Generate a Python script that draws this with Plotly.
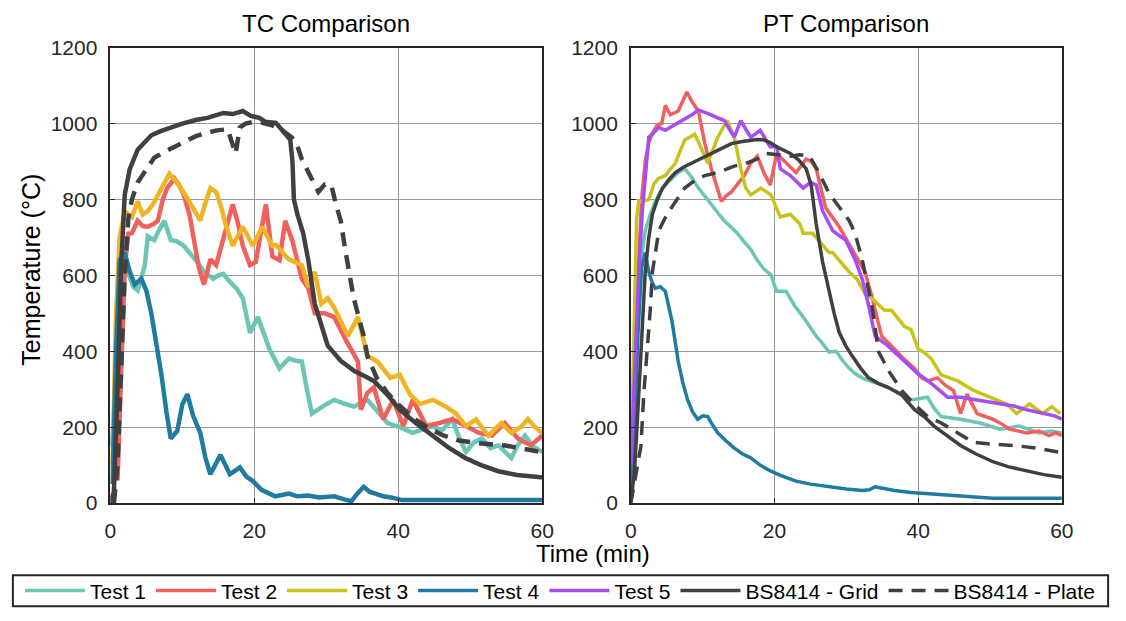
import plotly.graph_objects as go

# ---------------- TC Comparison (left) ----------------
tc_test1_time = [0.2, 0.6, 1.0, 1.4, 2.0, 2.6, 3.2, 3.8, 4.4, 4.8, 5.2, 6.1, 6.8, 7.5, 8.4, 9.2, 10.2, 11.0, 11.6, 12.3, 13.0, 14.3, 15.0, 15.7, 16.5, 17.5, 18.4, 19.4, 20.5, 21.2, 22.1, 23.5, 24.8, 25.8, 26.6, 27.3, 28.0, 29.5, 31.1, 32.5, 33.8, 35.7, 37.0, 38.5, 40.2, 42.0, 43.5, 44.8, 46.0, 47.5, 48.5, 49.4, 50.5, 51.6, 52.8, 53.9, 55.7, 56.5, 57.6, 58.7, 60.0]
tc_test1_temp = [150, 250, 420, 560, 620, 600, 570, 560, 600, 627, 703, 693, 720, 744, 693, 690, 678, 660, 642, 630, 609, 591, 600, 604, 585, 566, 540, 449, 490, 450, 406, 355, 381, 375, 373, 300, 236, 255, 272, 262, 254, 272, 245, 211, 200, 185, 195, 203, 190, 221, 170, 135, 160, 170, 145, 152, 119, 150, 178, 150, 135]

tc_test2_time = [1.0, 1.5, 2.0, 2.5, 3.0, 3.8, 4.5, 5.2, 6.0, 6.6, 7.3, 7.9, 8.9, 9.5, 10.2, 11.0, 11.6, 12.3, 13.0, 13.9, 14.7, 15.8, 17.0, 17.7, 18.4, 19.4, 20.2, 21.6, 22.5, 23.5, 24.3, 25.3, 26.6, 27.5, 28.4, 29.8, 31.1, 32.7, 34.4, 34.8, 35.7, 36.6, 37.9, 39.3, 40.7, 42.0, 43.9, 45.7, 47.5, 49.4, 51.2, 53.0, 54.8, 56.6, 58.4, 60.0]
tc_test2_temp = [60, 350, 620, 710, 711, 744, 730, 728, 735, 744, 800, 830, 855, 840, 812, 760, 693, 620, 576, 642, 627, 700, 787, 740, 678, 627, 635, 787, 650, 640, 744, 690, 591, 566, 500, 500, 490, 430, 373, 246, 290, 305, 221, 272, 203, 272, 203, 211, 221, 203, 185, 178, 211, 170, 152, 178]

tc_test3_time = [0.3, 0.8, 1.3, 2.0, 3.0, 3.8, 4.5, 5.2, 6.0, 6.6, 7.4, 8.2, 9.0, 9.8, 11.2, 12.5, 13.2, 13.9, 14.7, 15.4, 16.1, 17.0, 18.4, 19.8, 21.1, 22.5, 23.0, 24.8, 26.6, 27.5, 28.4, 29.3, 30.2, 31.1, 33.0, 34.4, 35.7, 37.1, 38.9, 40.2, 41.6, 43.0, 44.8, 46.6, 48.0, 49.4, 50.8, 52.5, 54.3, 55.7, 57.0, 58.0, 59.0, 60.0]
tc_test3_temp = [100, 500, 700, 769, 754, 795, 760, 769, 790, 812, 840, 868, 850, 830, 787, 744, 790, 830, 820, 780, 728, 678, 728, 678, 728, 678, 680, 642, 627, 570, 609, 525, 540, 515, 440, 490, 388, 373, 330, 338, 287, 261, 272, 254, 236, 203, 220, 178, 211, 185, 200, 221, 200, 185]

tc_test4_time = [0.3, 0.8, 1.3, 2.0, 2.7, 3.4, 4.3, 5.0, 5.7, 6.4, 7.1, 7.8, 8.4, 9.3, 10.0, 10.7, 11.5, 12.5, 13.2, 13.9, 14.6, 15.3, 16.0, 16.6, 17.3, 18.0, 18.9, 19.8, 21.0, 22.9, 24.0, 24.8, 26.0, 27.5, 29.0, 31.1, 32.5, 33.5, 34.3, 35.2, 36.0, 37.9, 39.0, 40.5, 45.0, 50.0, 55.0, 60.0]
tc_test4_temp = [50, 400, 640, 660, 610, 576, 591, 560, 500, 420, 338, 240, 170, 190, 260, 287, 230, 185, 120, 76, 100, 127, 100, 76, 85, 94, 70, 58, 35, 18, 22, 25, 18, 20, 15, 18, 10, 5, 25, 43, 30, 18, 15, 8, 8, 8, 8, 8]

tc_grid_time = [0.0, 0.5, 1.0, 1.5, 2.0, 2.7, 3.8, 4.7, 5.7, 7.0, 8.4, 10.0, 12.0, 13.5, 15.7, 17.0, 18.4, 19.5, 20.7, 21.5, 23.0, 24.3, 25.0, 25.3, 25.5, 26.0, 26.8, 27.5, 28.4, 29.3, 30.2, 32.0, 33.9, 35.3, 36.6, 38.5, 40.2, 42.5, 44.8, 47.0, 49.3, 51.5, 53.9, 56.5, 59.8, 60.0]
tc_grid_temp = [0, 30, 300, 620, 812, 880, 931, 950, 969, 980, 990, 1000, 1010, 1015, 1028, 1025, 1033, 1020, 1015, 1005, 1002, 972, 957, 900, 800, 760, 710, 640, 525, 470, 415, 375, 348, 335, 322, 285, 246, 210, 178, 146, 119, 100, 84, 74, 68, 68]

tc_plate_time = [0.5, 1.0, 1.5, 2.0, 2.5, 3.0, 3.8, 5.0, 6.1, 7.5, 8.9, 10.3, 11.8, 13.3, 14.8, 16.3, 17.0, 17.4, 18.0, 18.8, 20.0, 21.1, 22.5, 23.9, 25.2, 26.0, 26.6, 27.5, 28.2, 28.9, 29.8, 30.7, 31.3, 32.0, 32.7, 33.8, 35.2, 35.7, 37.0, 38.5, 40.0, 42.0, 44.0, 46.0, 48.4, 51.0, 54.8, 57.0, 59.8]
tc_plate_temp = [0, 100, 350, 600, 750, 800, 845, 880, 910, 925, 939, 950, 966, 975, 982, 985, 947, 921, 990, 1000, 1005, 1002, 995, 982, 964, 940, 906, 871, 845, 820, 840, 838, 790, 744, 660, 541, 440, 388, 330, 290, 260, 225, 200, 180, 165, 158, 152, 145, 135]

# ---------------- PT Comparison (right) ----------------
pt_test1_time = [0.0, 0.5, 1.0, 1.5, 2.0, 2.7, 3.4, 4.1, 4.8, 5.7, 6.6, 7.5, 8.4, 9.4, 10.3, 11.2, 12.1, 13.0, 13.9, 14.8, 15.7, 16.7, 17.6, 18.5, 19.5, 20.3, 21.6, 22.8, 24.0, 24.9, 25.8, 26.7, 27.6, 28.6, 29.5, 30.4, 31.3, 32.2, 33.5, 34.9, 36.7, 38.0, 39.0, 40.2, 41.3, 42.2, 43.2, 45.9, 48.6, 51.4, 54.1, 56.8, 58.5, 60.0]
pt_test1_temp = [50, 300, 550, 650, 718, 760, 795, 820, 838, 855, 871, 881, 860, 830, 810, 787, 765, 744, 728, 711, 690, 668, 640, 617, 601, 558, 558, 520, 490, 465, 440, 420, 398, 400, 375, 355, 340, 330, 320, 312, 297, 285, 272, 275, 279, 250, 228, 221, 211, 195, 203, 185, 190, 185]

pt_test2_time = [0.0, 0.5, 1.0, 1.5, 2.0, 2.5, 3.0, 3.7, 4.3, 4.8, 5.5, 6.6, 7.2, 7.8, 8.5, 9.4, 10.3, 11.2, 12.6, 13.3, 14.0, 14.9, 15.8, 16.7, 17.6, 18.5, 19.4, 20.3, 21.6, 23.0, 24.4, 25.1, 25.8, 27.1, 29.0, 30.8, 32.6, 33.6, 34.9, 36.7, 38.0, 39.5, 40.5, 41.3, 42.7, 43.8, 44.9, 45.9, 46.8, 48.2, 50.4, 51.5, 52.7, 55.1, 56.8, 58.2, 59.2, 60.0]
pt_test2_temp = [30, 300, 600, 800, 900, 950, 975, 997, 1000, 1048, 1023, 1033, 1060, 1083, 1058, 1033, 947, 881, 795, 810, 820, 840, 863, 896, 914, 871, 838, 921, 896, 871, 906, 900, 881, 779, 728, 668, 609, 541, 440, 406, 380, 355, 330, 322, 330, 310, 297, 236, 287, 236, 221, 210, 195, 185, 190, 178, 185, 178]

pt_test3_time = [0.0, 0.4, 0.8, 1.1, 1.6, 2.5, 3.2, 3.8, 4.8, 5.5, 6.2, 7.5, 8.9, 9.9, 10.7, 12.1, 13.4, 14.4, 15.3, 16.0, 16.7, 18.1, 19.5, 20.8, 22.2, 23.5, 24.0, 25.3, 26.2, 27.6, 28.1, 29.5, 30.4, 31.5, 32.6, 33.5, 35.3, 36.3, 37.3, 38.1, 39.0, 40.0, 41.0, 41.8, 43.2, 44.3, 45.5, 47.7, 50.0, 52.3, 53.7, 55.5, 57.3, 58.6, 59.8]
pt_test3_temp = [80, 400, 750, 795, 795, 800, 840, 855, 863, 880, 896, 957, 972, 931, 896, 964, 1008, 964, 881, 830, 812, 830, 812, 754, 761, 736, 711, 711, 690, 660, 660, 627, 609, 590, 551, 540, 508, 508, 482, 465, 457, 406, 395, 381, 338, 330, 322, 297, 279, 261, 236, 261, 236, 254, 236]

pt_test4_time = [0.0, 0.5, 1.0, 1.5, 2.0, 2.5, 3.0, 3.4, 4.1, 4.8, 5.7, 6.6, 7.2, 7.9, 8.6, 9.3, 10.0, 10.7, 11.4, 12.1, 13.2, 14.4, 15.5, 16.7, 18.0, 19.5, 21.0, 23.0, 25.0, 27.6, 30.0, 32.2, 33.2, 34.0, 35.3, 36.7, 39.0, 41.3, 43.5, 45.9, 48.0, 50.4, 55.0, 60.0]
pt_test4_temp = [30, 200, 450, 620, 660, 609, 580, 566, 570, 558, 482, 373, 320, 272, 240, 221, 230, 228, 205, 185, 165, 145, 130, 119, 100, 84, 72, 58, 50, 43, 37, 33, 35, 43, 38, 33, 28, 25, 21, 18, 16, 13, 13, 13]

pt_test5_time = [0.0, 0.5, 1.1, 1.6, 2.0, 2.5, 3.0, 3.9, 4.8, 6.2, 7.3, 8.5, 9.4, 10.3, 11.2, 12.1, 13.0, 14.4, 15.3, 16.0, 16.7, 18.0, 19.4, 20.3, 20.8, 22.2, 23.5, 24.0, 25.0, 25.8, 26.7, 28.1, 29.0, 29.9, 31.2, 32.2, 33.1, 34.0, 35.8, 37.2, 38.6, 40.0, 41.4, 42.7, 44.1, 45.9, 47.2, 48.6, 50.2, 51.8, 53.5, 55.1, 56.5, 57.8, 59.0, 60.0]
pt_test5_temp = [100, 350, 609, 769, 863, 964, 972, 990, 982, 997, 1010, 1023, 1036, 1030, 1023, 1015, 1008, 964, 1008, 985, 964, 982, 939, 939, 881, 863, 838, 830, 845, 838, 769, 718, 705, 693, 642, 591, 520, 440, 414, 390, 363, 340, 322, 300, 279, 279, 275, 272, 265, 261, 255, 246, 240, 236, 230, 221]

pt_grid_time = [0.0, 0.5, 1.0, 1.5, 2.0, 2.5, 3.0, 3.7, 4.4, 5.3, 6.2, 7.3, 8.5, 9.8, 11.2, 12.6, 14.0, 15.3, 16.7, 17.6, 18.5, 19.4, 20.3, 21.2, 22.2, 23.3, 24.4, 25.1, 25.8, 26.7, 27.6, 28.3, 29.0, 29.9, 30.8, 32.0, 33.1, 34.5, 35.8, 37.7, 39.5, 41.0, 42.2, 44.0, 45.9, 48.0, 50.4, 52.5, 55.1, 57.5, 60.0]
pt_grid_temp = [5, 80, 250, 450, 609, 700, 761, 800, 830, 852, 871, 885, 896, 909, 921, 935, 947, 952, 957, 958, 957, 950, 939, 930, 921, 905, 881, 838, 736, 635, 558, 500, 450, 415, 388, 355, 330, 315, 305, 285, 246, 225, 203, 178, 152, 130, 109, 96, 84, 75, 68]

pt_plate_time = [0.0, 0.3, 1.4, 1.8, 2.3, 2.7, 3.0, 3.9, 5.0, 6.2, 7.5, 8.9, 10.3, 12.1, 14.4, 16.0, 17.5, 18.9, 20.5, 22.2, 23.5, 24.9, 26.2, 27.6, 29.0, 30.4, 31.2, 32.2, 33.6, 34.5, 36.0, 37.7, 39.5, 41.3, 43.2, 45.5, 47.7, 50.5, 53.2, 56.5, 59.6, 60.0]
pt_plate_temp = [0, 30, 150, 287, 398, 508, 609, 718, 760, 795, 830, 850, 863, 871, 888, 895, 906, 921, 918, 914, 918, 914, 870, 816, 780, 744, 711, 642, 515, 398, 345, 297, 260, 228, 211, 185, 160, 155, 152, 145, 135, 133]

series_names = ["Test 1", "Test 2", "Test 3", "Test 4", "Test 5", "BS8414 - Grid", "BS8414 - Plate"]
x_ticks = [0, 20, 40, 60]
y_ticks = [0, 200, 400, 600, 800, 1000, 1200]

C_T1 = "#6CC5B5"
C_T2 = "#F0605D"
C_T3_TC = "#F0B323"
C_T3_PT = "#C6C41C"
C_T4 = "#1F7BA0"
C_T5 = "#A64DF5"
C_BS = "#404040"

fig = go.Figure()


def add(x, y, color, width, dash, xa, ya, name, show):
    fig.add_trace(go.Scatter(
        x=x, y=y, mode="lines", name=name, showlegend=show,
        line=dict(color=color, width=width, dash=dash),
        xaxis=xa, yaxis=ya, hoverinfo="skip"))


WL = 4.5
add(tc_test1_time, tc_test1_temp, C_T1, WL, "solid", "x", "y", series_names[0], False)
add(tc_test2_time, tc_test2_temp, C_T2, WL, "solid", "x", "y", series_names[1], False)
add(tc_test3_time, tc_test3_temp, C_T3_TC, WL, "solid", "x", "y", series_names[2], False)
add(tc_test4_time, tc_test4_temp, C_T4, WL, "solid", "x", "y", series_names[3], False)
add(tc_grid_time, tc_grid_temp, C_BS, WL, "solid", "x", "y", series_names[5], False)
add(tc_plate_time, tc_plate_temp, C_BS, WL, "14px,9px", "x", "y", series_names[6], False)

WR = 3.5
add(pt_test1_time, pt_test1_temp, C_T1, WR, "solid", "x2", "y2", series_names[0], True)
add(pt_test2_time, pt_test2_temp, C_T2, WR, "solid", "x2", "y2", series_names[1], True)
add(pt_test3_time, pt_test3_temp, C_T3_PT, WR, "solid", "x2", "y2", series_names[2], True)
add(pt_test4_time, pt_test4_temp, C_T4, WR, "solid", "x2", "y2", series_names[3], True)
add(pt_test5_time, pt_test5_temp, C_T5, WR, "solid", "x2", "y2", series_names[4], True)
add(pt_grid_time, pt_grid_temp, C_BS, WR, "solid", "x2", "y2", series_names[5], True)
add(pt_plate_time, pt_plate_temp, C_BS, WR, "14px,9px", "x2", "y2", series_names[6], True)

W, H = 1126, 621
FONT = "Liberation Sans, Arial, sans-serif"
TXT = "#262626"

axis_common = dict(
    showgrid=True, gridcolor="#999999", gridwidth=1.4,
    showline=True, mirror=True, linecolor=TXT, linewidth=1.5,
    ticks="inside", ticklen=5, tickcolor=TXT, tickwidth=1.2,
    tickfont=dict(family=FONT, size=21, color=TXT),
    zeroline=False, fixedrange=True,
)

xd1 = [106 / W, 545 / W]
xd2 = [635 / W, 1073 / W]
yd = [1 - 510 / H, 1 - 37 / H]

fig.update_layout(
    width=W, height=H,
    margin=dict(l=0, r=0, t=0, b=0),
    paper_bgcolor="white", plot_bgcolor="white",
    font=dict(family=FONT, color=TXT),
    xaxis=dict(domain=xd1, range=[0, 60], tickvals=x_ticks, anchor="y", ticklabelstandoff=8, **axis_common),
    yaxis=dict(domain=yd, range=[0, 1200], tickvals=y_ticks, anchor="x", ticklabelstandoff=7, **axis_common),
    xaxis2=dict(domain=xd2, range=[0, 60], tickvals=x_ticks, anchor="y2", ticklabelstandoff=8, **axis_common),
    yaxis2=dict(domain=yd, range=[0, 1200], tickvals=y_ticks, anchor="x2", ticklabelstandoff=7, **axis_common),
    legend=dict(
        orientation="h", x=0.5, xanchor="center", y=1 - 601 / H, yanchor="middle",
        font=dict(family=FONT, size=21, color="black"),
        bgcolor="rgba(0,0,0,0)", borderwidth=0, itemwidth=60,
        traceorder="normal",
    ),
    showlegend=True,
)

fig.add_shape(type="rect", xref="paper", yref="paper",
              x0=7 / W, x1=1120 / W, y0=1 - 617 / H, y1=1 - 585 / H,
              line=dict(color="#262626", width=2), fillcolor="rgba(0,0,0,0)")

ann_font = dict(family=FONT, size=24, color="black")
fig.add_annotation(text="TC Comparison", x=(xd1[0] + xd1[1]) / 2, y=1 - 12 / H,
                   xref="paper", yref="paper", showarrow=False, font=ann_font,
                   xanchor="center", yanchor="middle")
fig.add_annotation(text="PT Comparison", x=(xd2[0] + xd2[1]) / 2, y=1 - 12 / H,
                   xref="paper", yref="paper", showarrow=False, font=ann_font,
                   xanchor="center", yanchor="middle")
fig.add_annotation(text="Time (min)", x=597 / W, y=1 - 562 / H,
                   xref="paper", yref="paper", showarrow=False, font=ann_font,
                   xanchor="center", yanchor="middle")
fig.add_annotation(text="Temperature (°C)", x=25 / W, y=1 - 268 / H, textangle=-90,
                   xref="paper", yref="paper", showarrow=False,
                   font=dict(family=FONT, size=25, color="black"),
                   xanchor="center", yanchor="middle")

fig.write_html("out.html")
